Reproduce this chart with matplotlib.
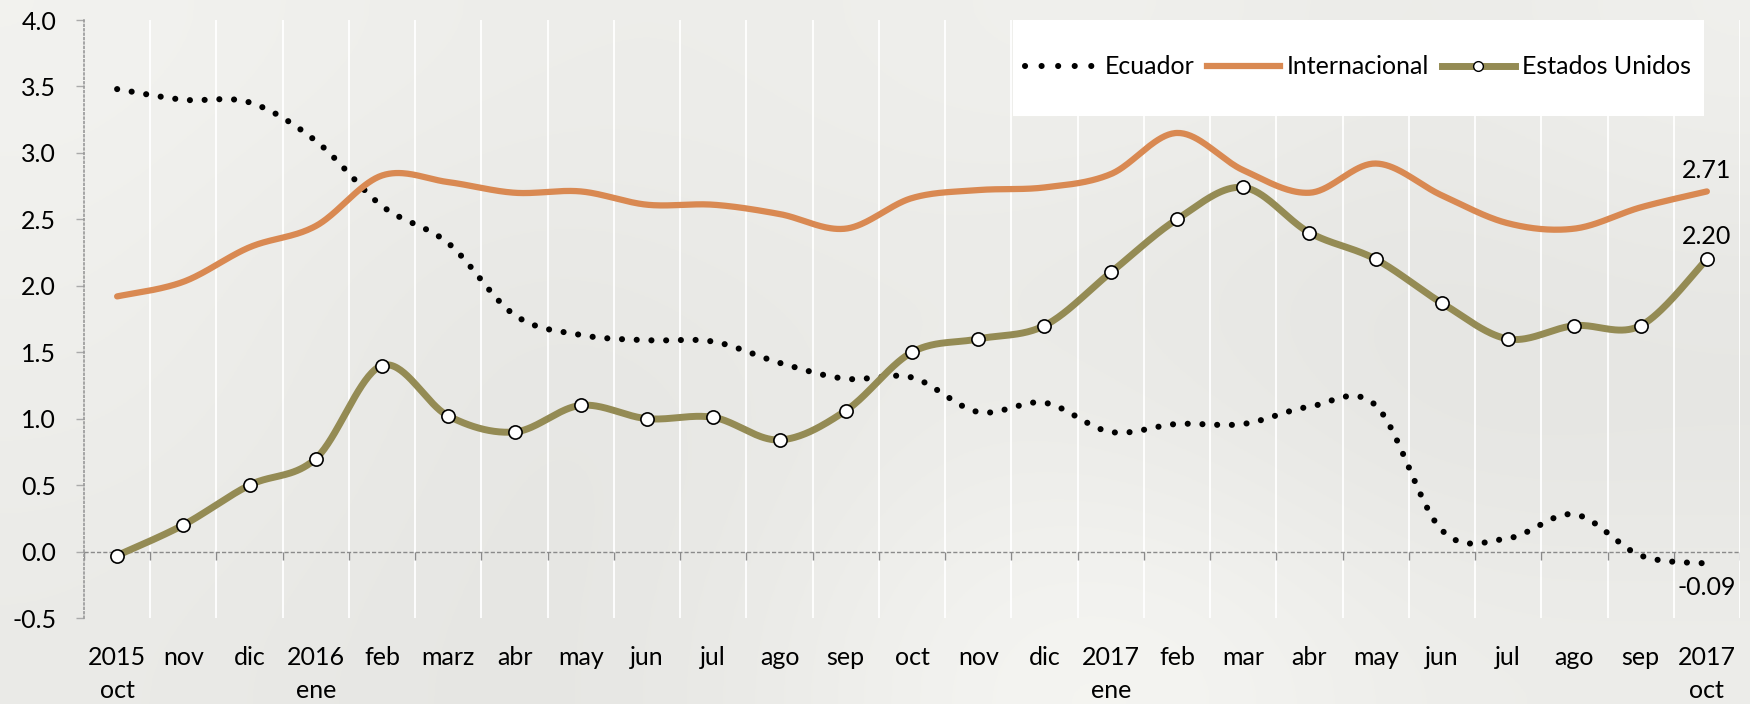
import numpy as np
import matplotlib
matplotlib.use("Agg")
import matplotlib.pyplot as plt
from matplotlib.lines import Line2D
from matplotlib.patches import Rectangle

plt.rcParams["font.family"] = ["Lato", "DejaVu Sans"]

# ─── Data ─────────────────────────────────────────────────────────────────────
months = ["2015\noct", "nov", "dic", "2016\nene", "feb", "marz", "abr", "may",
          "jun", "jul", "ago", "sep", "oct", "nov", "dic", "2017\nene", "feb",
          "mar", "abr", "may", "jun", "jul", "ago", "sep", "2017\noct"]

ecuador = [3.48, 3.40, 3.38, 3.09, 2.60, 2.32, 1.78, 1.63, 1.59, 1.58, 1.42,
           1.30, 1.31, 1.05, 1.12, 0.90, 0.96, 0.96, 1.09, 1.10, 0.16, 0.10,
           0.28, -0.03, -0.09]
internacional = [1.92, 2.03, 2.29, 2.45, 2.83, 2.78, 2.70, 2.71, 2.61, 2.61,
                 2.54, 2.43, 2.66, 2.72, 2.74, 2.84, 3.15, 2.87, 2.70, 2.92,
                 2.68, 2.47, 2.43, 2.59, 2.71]
estados_unidos = [-0.03, 0.20, 0.50, 0.70, 1.40, 1.02, 0.90, 1.10, 1.00, 1.01,
                  0.84, 1.06, 1.50, 1.60, 1.70, 2.10, 2.50, 2.74, 2.40, 2.20,
                  1.87, 1.60, 1.70, 1.70, 2.20]

yticks = [-0.5, 0.0, 0.5, 1.0, 1.5, 2.0, 2.5, 3.0, 3.5, 4.0]

ORANGE = "#D98952"
OLIVE = "#948B54"


def smooth(y, n=40):
    """Excel-style smoothed line (Catmull-Rom as cubic Bezier)."""
    pts = np.column_stack([np.arange(len(y)), np.asarray(y, float)])
    p = np.vstack([pts[0], pts, pts[-1]])
    out = []
    t = np.linspace(0, 1, n)[:, None]
    for i in range(1, len(p) - 2):
        p0, p1, p2, p3 = p[i - 1], p[i], p[i + 1], p[i + 2]
        c1 = p1 + (p2 - p0) / 6
        c2 = p2 - (p3 - p1) / 6
        seg = ((1 - t) ** 3) * p1 + 3 * ((1 - t) ** 2) * t * c1 \
            + 3 * (1 - t) * t ** 2 * c2 + t ** 3 * p2
        out.append(seg if i == 1 else seg[1:])
    seg = np.vstack(out)
    return seg[:, 0], seg[:, 1]


fig = plt.figure(figsize=(17.5, 7.04), dpi=100)

# blurred photo-like backdrop
bg = np.array([
    [0.95, 0.94, 0.93, 0.93, 0.94, 0.94, 0.92, 0.94],
    [0.94, 0.92, 0.91, 0.92, 0.92, 0.91, 0.90, 0.91],
    [0.93, 0.92, 0.90, 0.91, 0.93, 0.92, 0.90, 0.90],
    [0.92, 0.91, 0.90, 0.92, 0.96, 0.96, 0.93, 0.93],
])
bg_rgb = np.dstack([bg, bg, bg - 0.012])
bg_ax = fig.add_axes([0, 0, 1, 1], zorder=-1)
bg_ax.imshow(np.clip(bg_rgb, 0, 1), aspect="auto", interpolation="bicubic")
bg_ax.axis("off")

ax = fig.add_axes([84 / 1750, 1 - 618 / 704, (1740 - 84) / 1750, (618 - 20) / 704])
ax.set_facecolor("none")
x = np.arange(len(months))

# gridlines at category boundaries
for b in np.arange(0.5, len(months), 1.0):
    ax.axvline(b, color="white", lw=1.3, zorder=1)

# x axis at zero
ax.axhline(0, color="#8a8a8a", lw=1.0, ls=(0, (3, 1.5)), zorder=2)
ax.vlines(np.arange(-0.5, len(months), 1.0), -0.06, 0, color="#8a8a8a", lw=1.0, zorder=2)

sx, sy = smooth(ecuador)
ax.plot(sx, sy, color="black", lw=4.4, ls=(0, (0.01, 2.4)),
        dash_capstyle="round", zorder=3)
sx, sy = smooth(internacional)
ax.plot(sx, sy, color=ORANGE, lw=4.5, solid_capstyle="round", zorder=4)
sx, sy = smooth(estados_unidos)
ax.plot(sx, sy, color=OLIVE, lw=5, solid_capstyle="round", zorder=5)
ax.plot(x, estados_unidos, ls="none", marker="o", ms=9.5, mfc="white",
        mec="black", mew=1.2, zorder=6)

# data labels on last point
ax.annotate(f"{internacional[-1]:.2f}", (x[-1], internacional[-1]), xytext=(0, 15),
            textcoords="offset points", ha="center", va="center", fontsize=18)
ax.annotate(f"{estados_unidos[-1]:.2f}", (x[-1], estados_unidos[-1]), xytext=(0, 16),
            textcoords="offset points", ha="center", va="center", fontsize=18)
ax.annotate(f"{ecuador[-1]:.2f}", (x[-1], ecuador[-1]), xytext=(0, -17),
            textcoords="offset points", ha="center", va="center", fontsize=18)

ax.set_xlim(-0.5, len(months) - 0.5)
ax.set_ylim(-0.5, 4.0)
ax.set_yticks(yticks)
ax.set_yticklabels([f"{v:.1f}" for v in yticks])
ax.set_xticks(x)
ax.set_xticklabels(months, linespacing=1.55)
ax.tick_params(axis="x", length=0, pad=20, labelsize=18)
ax.tick_params(axis="y", length=6, width=1, color="#aaaaaa", pad=14, labelsize=18)
for s in ["top", "right", "bottom"]:
    ax.spines[s].set_visible(False)
ax.spines["left"].set_color("#999999")
ax.spines["left"].set_linestyle(":")
ax.spines["left"].set_linewidth(1.2)

# legend box
fig.patches.append(Rectangle((1013 / 1750, 1 - 116 / 704), (1704 - 1013) / 1750,
                             96 / 704, transform=fig.transFigure,
                             facecolor="white", edgecolor="none", zorder=7))
handles = [
    Line2D([], [], color="black", lw=4.4, ls=(0, (0.01, 2.7)), dash_capstyle="round"),
    Line2D([], [], color=ORANGE, lw=4.5),
    Line2D([], [], color=OLIVE, lw=5, marker="o", ms=7, mfc="white", mec="black", mew=1),
]
leg = fig.legend(handles, ["Ecuador", "Internacional", "Estados Unidos"],
                 loc="center", bbox_to_anchor=(1358 / 1750, 1 - 67 / 704), ncol=3,
                 frameon=False, fontsize=18, handlelength=2.9, handletextpad=0.3,
                 columnspacing=0.5)
leg.set_zorder(8)

fig.savefig("out.png", dpi=100)
